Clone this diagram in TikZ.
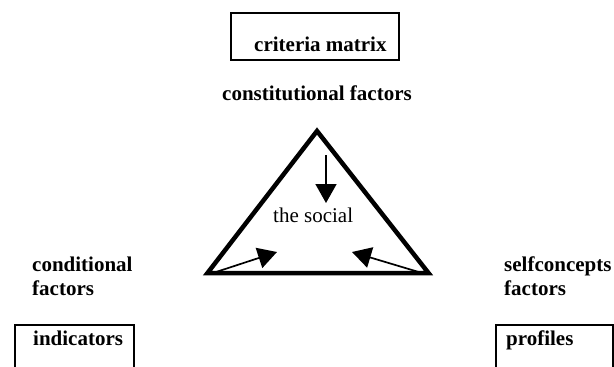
\documentclass[tikz,border=0pt]{standalone}
\usepackage{fontspec}
\setmainfont{Liberation Serif}
\usetikzlibrary{arrows.meta}
\begin{document}
\begin{tikzpicture}[x=1pt,y=-1pt,
  lbl/.style={inner sep=0,anchor=base west,font=\fontsize{21}{23}\selectfont\bfseries},
  plain/.style={inner sep=0,anchor=base west,font=\fontsize{21}{23}\selectfont},
  boxnode/.style={draw,line width=1.5pt,inner sep=0,anchor=north west},
  tri/.style={line width=4.5pt,miter limit=10,line join=miter},
  arr/.style={line width=1.7pt,-{Triangle[length=19pt,width=21pt]}}]
\useasboundingbox (0,0) rectangle (614,367);
\clip (0,0) rectangle (614,367);
% boxes
\node[boxnode,minimum width=168pt,minimum height=47pt] (cmbox) at (230,12) {};
\node[boxnode,minimum width=119pt,minimum height=70pt] (indbox) at (14,324) {};
\node[boxnode,minimum width=117pt,minimum height=70pt] (profbox) at (495,324) {};
% texts
\node[lbl] (cm) at (254,51) {criteria matrix};
\node[lbl] (const) at (222,100) {constitutional factors};
\node[plain] (social) at (273,222) {the social};
\node[lbl] (cond1) at (32,271) {conditional};
\node[lbl] (cond2) at (32,295) {factors};
\node[lbl] (ind) at (33,345) {indicators};
\node[lbl] (self1) at (504,271) {selfconcepts};
\node[lbl] (self2) at (504,295) {factors};
\node[lbl] (prof) at (506,345) {profiles};
% triangle
\coordinate (apex) at (317,131);
\coordinate (bl) at (207.5,273);
\coordinate (br) at (428.5,273);
\draw[tri] (apex) -- (bl) -- (br) -- cycle;
% arrows
\coordinate (dtop) at (326,155);
\coordinate (dbot) at (326,203);
\coordinate (ls) at (213,273);
\coordinate (le) at (277,252);
\coordinate (rs) at (422,273);
\coordinate (re) at (352,252);
\draw[arr] (dtop) -- (dbot);
\draw[arr] (ls) -- (le);
\draw[arr] (rs) -- (re);
\end{tikzpicture}
\end{document}
